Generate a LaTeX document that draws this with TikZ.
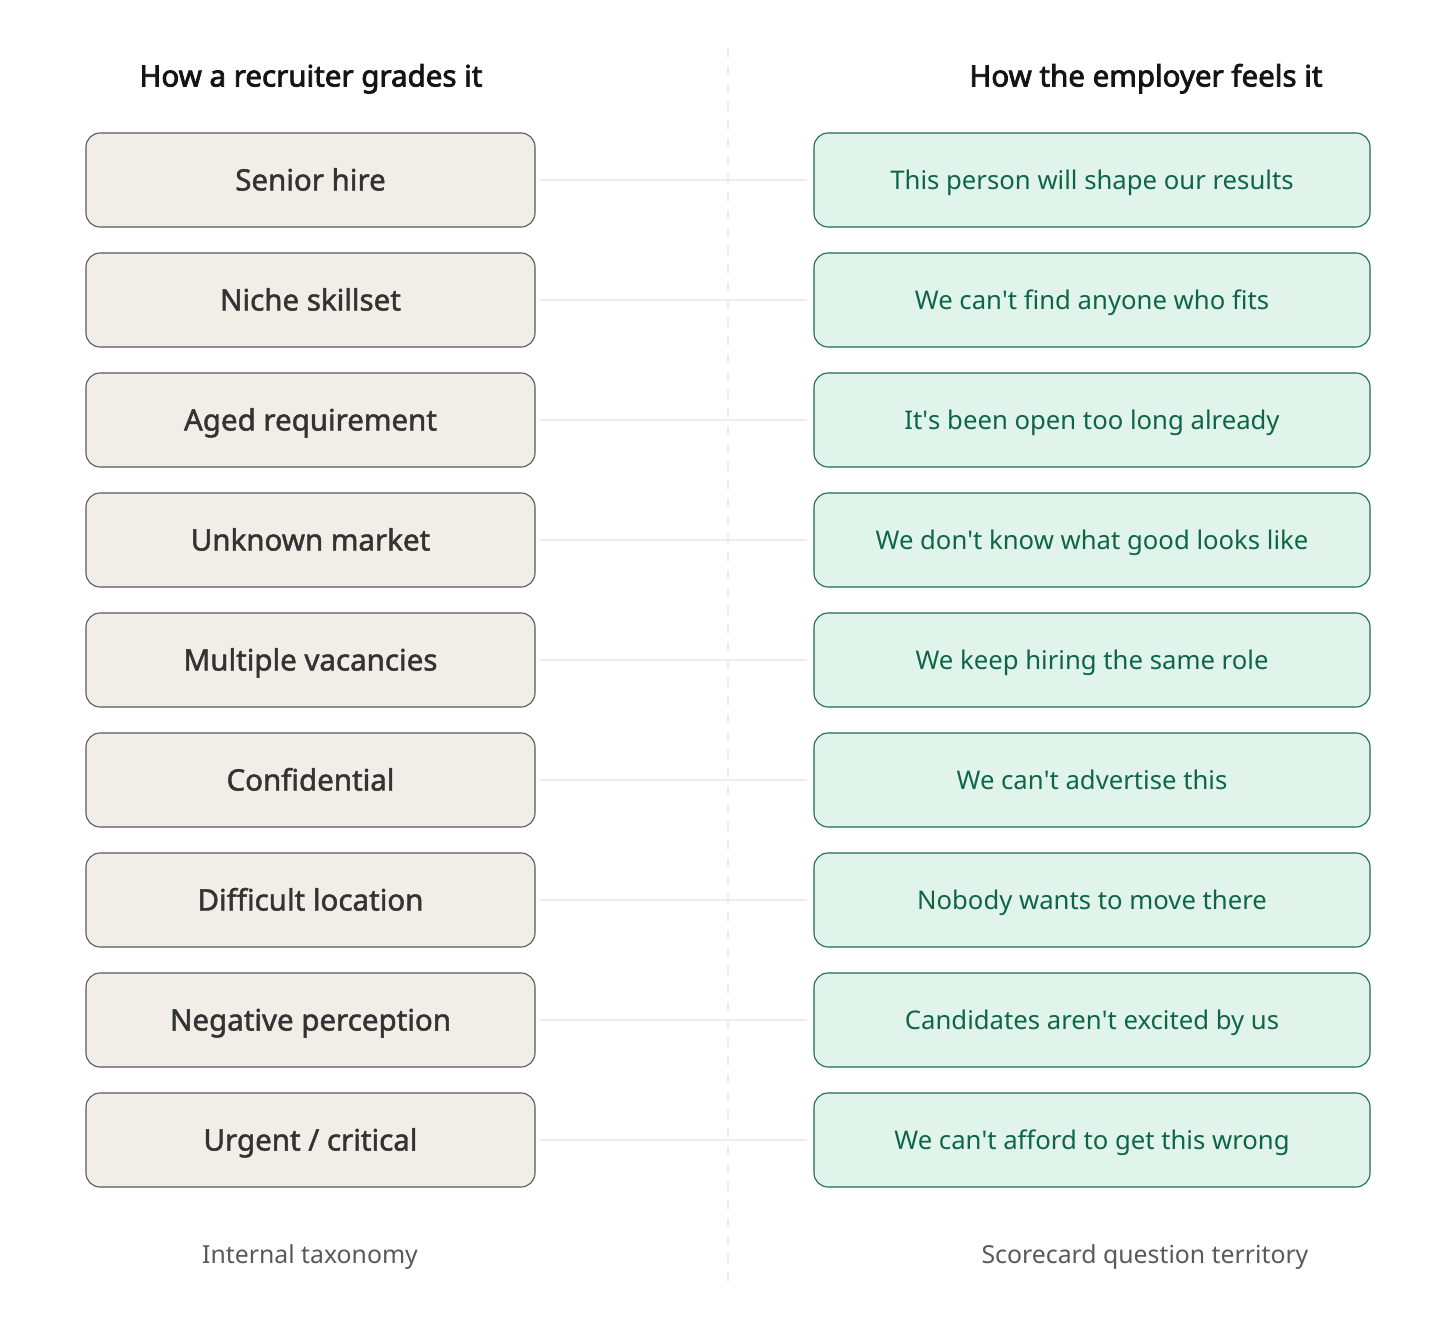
\documentclass[tikz,border=0pt]{standalone}
\usepackage{fontspec}
\setmainfont{Noto Sans}
\newfontfamily\medfont{Noto Sans}[FakeBold=1.6]
\newfontfamily\semifont{Noto Sans}[FakeBold=2.6]
\begin{document}
\begin{tikzpicture}[x=1pt,y=-1pt,
  lbox/.style={draw=black!65,line width=1.1pt,fill=leftfill,rounded corners=14pt,minimum width=449pt,minimum height=94pt,inner sep=0pt,text=black!80,font=\medfont\fontsize{29.5}{34}\selectfont,text height=21pt,text depth=0pt},
  rbox/.style={draw=rightdraw,line width=1.1pt,fill=rightfill,rounded corners=14pt,minimum width=556pt,minimum height=94pt,inner sep=0pt,text=righttext,font=\fontsize{25.7}{30}\selectfont,text height=18.3pt,text depth=0pt},
  link/.style={draw=black!7,line width=1.5pt},
  head/.style={font=\semifont\fontsize{29.5}{34}\selectfont,text=black!92,text height=21pt,text depth=0pt},
  foot/.style={font=\fontsize{24.8}{30}\selectfont,text=black!65,text height=17.7pt,text depth=0pt}]
\definecolor{leftfill}{HTML}{F1EEE7}
\definecolor{rightfill}{HTML}{E1F4EC}
\definecolor{rightdraw}{HTML}{1E6B4E}
\definecolor{righttext}{HTML}{0F6645}
\useasboundingbox (0,0) rectangle (1456,1328);
\fill[white] (0,0) rectangle (1456,1328);
\coordinate (ctop) at (728,48);
\coordinate (cbot) at (728,1285);
\draw[black!7,line width=2pt,dash pattern=on 9pt off 9pt] (ctop) -- (cbot);
\node[head] (hl) at (311,76) {How a recruiter grades it};
\node[head] (hr) at (1146,76) {How the employer feels it};
\foreach \i/\l/\r in {0/Senior hire/This person will shape our results,
  1/Niche skillset/We can\textquotesingle t find anyone who fits,
  2/Aged requirement/It\textquotesingle s been open too long already,
  3/Unknown market/We don\textquotesingle t know what good looks like,
  4/Multiple vacancies/We keep hiring the same role,
  5/Confidential/We can\textquotesingle t advertise this,
  6/Difficult location/Nobody wants to move there,
  7/Negative perception/Candidates aren\textquotesingle t excited by us,
  8/Urgent \slash{} critical/We can\textquotesingle t afford to get this wrong}{
  \node[lbox] (l\i) at (310.5,180+120*\i) {\l};
  \node[rbox] (r\i) at (1092,180+120*\i) {\r};
  \draw[link] ([xshift=3pt]l\i.east) -- ([xshift=-6pt]r\i.west);
}
\node[foot] (fl) at (310,1255) {Internal taxonomy};
\node[foot] (fr) at (1145,1255) {Scorecard question territory};
\end{tikzpicture}
\end{document}
